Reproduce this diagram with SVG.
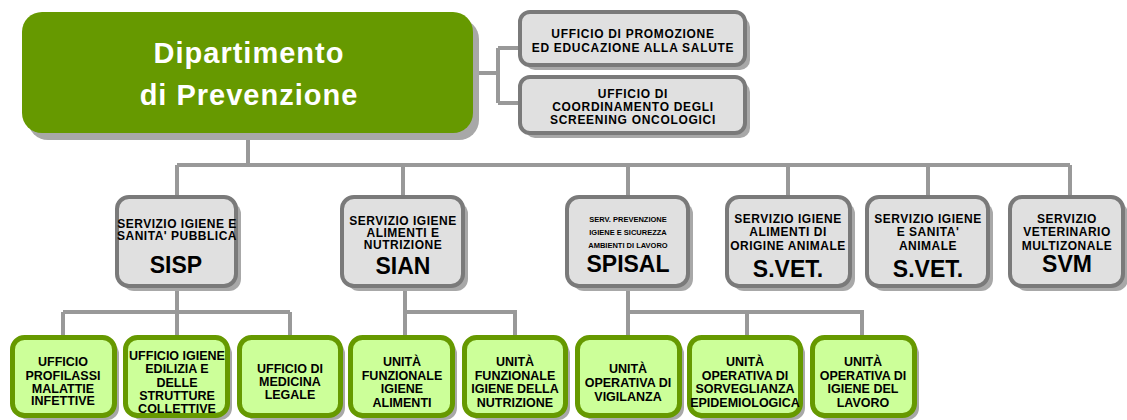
<svg xmlns="http://www.w3.org/2000/svg" width="1127" height="420" viewBox="0 0 1127 420">
<style>
.sh{fill:#a8a8a8}
.main{fill:#669900}
.gray{fill:#e0e0e0;stroke:#7a7a7a;stroke-width:4}
.green{fill:#ccff99;stroke:#669900;stroke-width:5}
.con{fill:none;stroke:#999999;stroke-width:4}
text{font-family:"Liberation Sans",Arial,sans-serif;font-weight:bold;text-anchor:middle;fill:#000}
.t28{font-size:29px;fill:#fff;letter-spacing:1px}
.t11{font-size:12px;letter-spacing:0.5px}
.to{font-size:12px;letter-spacing:0.7px}
.t12{font-size:12.5px}
.t7{font-size:7.5px}
.t24{font-size:23px}
</style>
<g id="connectors">
<path class="con" d="M473,73 H498 M498,48 V103 M498,48 H520 M498,103 H520"/>
<path class="con" d="M248,133 V165 M177,165 H1070 M177,165 V195 M403,165 V195 M628,165 V195 M788,165 V195 M928,165 V195 M1070,165 V195"/>
<path class="con" d="M177,288 V335 M63,312 H290 M63,312 V335 M290,312 V335"/>
<path class="con" d="M405,288 V335 M405,312 H515 V335"/>
<path class="con" d="M628,288 V335 M628,312 H862 V335 M747,312 V335"/>
</g>
<g id="dipartimento">
<rect class="sh" x="28" y="19" width="451" height="121" rx="20"/>
<rect class="main" x="22" y="12" width="451" height="121" rx="20"/>
<text class="t28" x="249" y="63">Dipartimento</text>
<text class="t28" x="249" y="105">di Prevenzione</text>
</g>
<g id="ufficio-promozione">
<rect class="sh" x="525" y="17" width="225" height="53" rx="10"/>
<rect class="gray" x="520" y="12" width="225" height="53" rx="10"/>
<text class="to" x="633" y="38">UFFICIO DI PROMOZIONE</text>
<text class="to" x="633" y="52">ED EDUCAZIONE ALLA SALUTE</text>
</g>
<g id="ufficio-screening">
<rect class="sh" x="525" y="82" width="225" height="56" rx="10"/>
<rect class="gray" x="520" y="77" width="225" height="56" rx="10"/>
<text class="to" x="633" y="98">UFFICIO DI</text>
<text class="to" x="633" y="111">COORDINAMENTO DEGLI</text>
<text class="to" x="633" y="124">SCREENING ONCOLOGICI</text>
</g>
<g id="sisp">
<rect class="sh" x="122" y="202" width="119" height="89" rx="12"/>
<rect class="gray" x="117" y="197" width="119" height="89" rx="12"/>
<text class="t11" x="177" y="228">SERVIZIO IGIENE E</text>
<text class="t11" x="177" y="240">SANITA' PUBBLICA</text>
<text class="t24" x="176" y="273">SISP</text>
</g>
<g id="sian">
<rect class="sh" x="347" y="202" width="121" height="89" rx="12"/>
<rect class="gray" x="342" y="197" width="121" height="89" rx="12"/>
<text class="t11" x="403" y="225">SERVIZIO IGIENE</text>
<text class="t11" x="403" y="237">ALIMENTI E</text>
<text class="t11" x="403" y="249">NUTRIZIONE</text>
<text class="t24" x="403" y="274">SIAN</text>
</g>
<g id="spisal">
<rect class="sh" x="572" y="202" width="121" height="89" rx="12"/>
<rect class="gray" x="567" y="197" width="121" height="89" rx="12"/>
<text class="t7" x="628" y="222">SERV. PREVENZIONE</text>
<text class="t7" x="628" y="235">IGIENE E SICUREZZA</text>
<text class="t7" x="628" y="248">AMBIENTI DI LAVORO</text>
<text class="t24" x="628" y="272">SPISAL</text>
</g>
<g id="svet-alimenti">
<rect class="sh" x="732" y="202" width="123" height="89" rx="12"/>
<rect class="gray" x="727" y="197" width="123" height="89" rx="12"/>
<text class="t11" x="788" y="223">SERVIZIO IGIENE</text>
<text class="t11" x="788" y="236">ALIMENTI DI</text>
<text class="t11" x="788" y="250">ORIGINE ANIMALE</text>
<text class="t24" x="788" y="277">S.VET.</text>
</g>
<g id="svet-sanita">
<rect class="sh" x="872" y="202" width="121" height="89" rx="12"/>
<rect class="gray" x="867" y="197" width="121" height="89" rx="12"/>
<text class="t11" x="928" y="223">SERVIZIO IGIENE</text>
<text class="t11" x="928" y="236">E SANITA'</text>
<text class="t11" x="928" y="250">ANIMALE</text>
<text class="t24" x="928" y="277">S.VET.</text>
</g>
<g id="svm">
<rect class="sh" x="1015" y="202" width="113" height="89" rx="12"/>
<rect class="gray" x="1010" y="197" width="113" height="89" rx="12"/>
<text class="t11" x="1067" y="223">SERVIZIO</text>
<text class="t11" x="1067" y="236">VETERINARIO</text>
<text class="t11" x="1067" y="250">MULTIZONALE</text>
<text class="t24" x="1067" y="272">SVM</text>
</g>
<g id="profilassi">
<rect class="sh" x="17" y="342" width="102" height="78" rx="12"/>
<rect class="green" x="12.5" y="337.5" width="102" height="78" rx="12"/>
<text class="t12" x="63" y="366">UFFICIO</text>
<text class="t12" x="63" y="380">PROFILASSI</text>
<text class="t12" x="63" y="393">MALATTIE</text>
<text class="t12" x="63" y="405">INFETTIVE</text>
</g>
<g id="edilizia">
<rect class="sh" x="130" y="342" width="102" height="78" rx="12"/>
<rect class="green" x="125.5" y="337.5" width="102" height="78" rx="12"/>
<text class="t12" x="177" y="360">UFFICIO IGIENE</text>
<text class="t12" x="177" y="373">EDILIZIA E</text>
<text class="t12" x="177" y="387">DELLE</text>
<text class="t12" x="177" y="400">STRUTTURE</text>
<text class="t12" x="177" y="413">COLLETTIVE</text>
</g>
<g id="medicina-legale">
<rect class="sh" x="244" y="342" width="101" height="78" rx="12"/>
<rect class="green" x="239.5" y="337.5" width="101" height="78" rx="12"/>
<text class="t12" x="290" y="373">UFFICIO DI</text>
<text class="t12" x="290" y="386">MEDICINA</text>
<text class="t12" x="290" y="399">LEGALE</text>
</g>
<g id="igiene-alimenti">
<rect class="sh" x="355" y="342" width="102" height="78" rx="12"/>
<rect class="green" x="350.5" y="337.5" width="102" height="78" rx="12"/>
<text class="t12" x="402" y="366">UNITÀ</text>
<text class="t12" x="402" y="380">FUNZIONALE</text>
<text class="t12" x="402" y="393">IGIENE</text>
<text class="t12" x="402" y="407">ALIMENTI</text>
</g>
<g id="igiene-nutrizione">
<rect class="sh" x="469" y="342" width="101" height="78" rx="12"/>
<rect class="green" x="464.5" y="337.5" width="101" height="78" rx="12"/>
<text class="t12" x="515" y="366">UNITÀ</text>
<text class="t12" x="515" y="380">FUNZIONALE</text>
<text class="t12" x="515" y="393">IGIENE DELLA</text>
<text class="t12" x="515" y="407">NUTRIZIONE</text>
</g>
<g id="vigilanza">
<rect class="sh" x="582" y="342" width="102" height="78" rx="12"/>
<rect class="green" x="577.5" y="337.5" width="102" height="78" rx="12"/>
<text class="t12" x="628" y="373">UNITÀ</text>
<text class="t12" x="628" y="387">OPERATIVA DI</text>
<text class="t12" x="628" y="401">VIGILANZA</text>
</g>
<g id="epidemiologica">
<rect class="sh" x="694" y="342" width="111" height="78" rx="12"/>
<rect class="green" x="689.5" y="337.5" width="111" height="78" rx="12"/>
<text class="t12" x="745" y="366">UNITÀ</text>
<text class="t12" x="745" y="380">OPERATIVA DI</text>
<text class="t12" x="745" y="393">SORVEGLIANZA</text>
<text class="t12" x="745" y="407">EPIDEMIOLOGICA</text>
</g>
<g id="igiene-lavoro">
<rect class="sh" x="817" y="342" width="102" height="78" rx="12"/>
<rect class="green" x="812.5" y="337.5" width="102" height="78" rx="12"/>
<text class="t12" x="863" y="366">UNITÀ</text>
<text class="t12" x="863" y="380">OPERATIVA DI</text>
<text class="t12" x="863" y="393">IGIENE DEL</text>
<text class="t12" x="863" y="407">LAVORO</text>
</g>
</svg>
